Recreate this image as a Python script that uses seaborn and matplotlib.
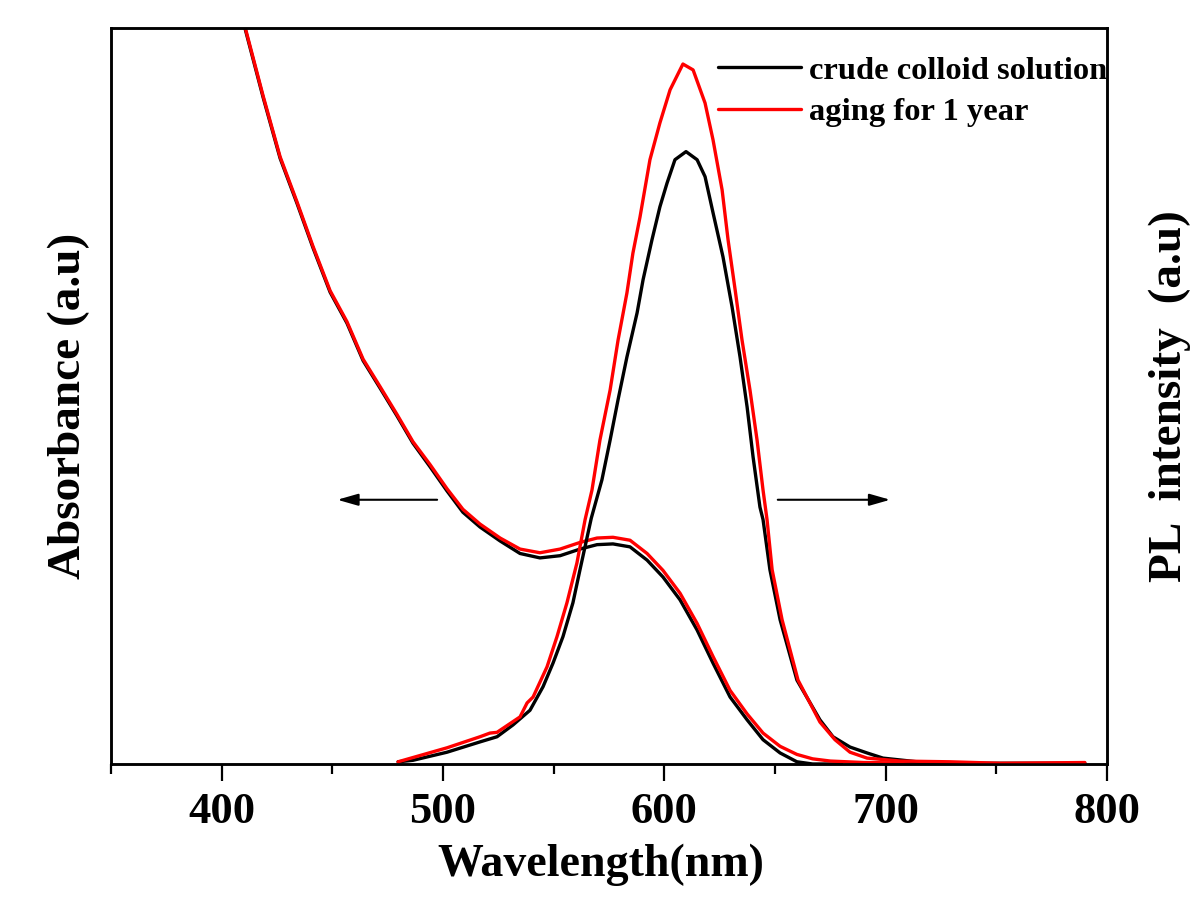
import numpy as np
import pandas as pd
import matplotlib
matplotlib.use("Agg")
import matplotlib.pyplot as plt
import seaborn as sns

# ---------------- data (arbitrary units) ----------------
abs_wl = [400, 410.5, 418.7, 426.4, 434.0, 441.3, 449.0, 456.6, 463.9, 471.5, 479.2,
          486.4, 494.1, 501.8, 509.0, 516.7, 525.8, 534.8, 543.8, 552.9, 561.9,
          569.6, 576.8, 584.5, 592.2, 599.4, 607.1, 614.8, 622.0, 629.7, 637.4,
          644.6, 652.3, 659.9, 667.0, 680.0]
abs_black = [1.13, 1.000, 0.906, 0.823, 0.762, 0.701, 0.641, 0.599, 0.548, 0.511, 0.473,
             0.436, 0.404, 0.371, 0.342, 0.322, 0.303, 0.286, 0.280, 0.283, 0.292,
             0.298, 0.299, 0.295, 0.277, 0.254, 0.223, 0.182, 0.137, 0.091, 0.060,
             0.033, 0.015, 0.003, 0.000, 0.000]
abs_red_wl = abs_wl[:-1] + [675.0, 690.0, 720.0]
abs_red = [1.13, 1.002, 0.908, 0.825, 0.764, 0.703, 0.643, 0.601, 0.550, 0.513, 0.475,
           0.438, 0.407, 0.374, 0.346, 0.326, 0.307, 0.292, 0.287, 0.292, 0.301,
           0.307, 0.308, 0.304, 0.286, 0.263, 0.232, 0.191, 0.146, 0.100, 0.068,
           0.042, 0.024, 0.013, 0.007, 0.004, 0.002, 0.001]

pl_black_wl = [479.7, 486.4, 501.8, 516.7, 524.4, 531.6, 539.3, 545.2, 549.7, 554.2,
               558.7, 561.9, 567.0, 571.8, 575.5, 579.1, 583.1, 587.7, 590.4, 594.4,
               598.0, 601.2, 604.8, 609.8, 614.8, 618.4, 622.0, 626.5, 630.6, 634.2,
               637.4, 640.1, 643.2, 644.6, 647.7, 652.3, 659.9, 670.3, 676.2, 683.9,
               691.6, 698.8, 714.2, 729.1, 760.0, 790.0]
pl_black = [0.003, 0.005, 0.016, 0.030, 0.037, 0.053, 0.073, 0.105, 0.137, 0.173,
            0.219, 0.264, 0.334, 0.386, 0.440, 0.495, 0.553, 0.613, 0.658, 0.712,
            0.757, 0.789, 0.821, 0.832, 0.821, 0.798, 0.749, 0.689, 0.621, 0.553,
            0.485, 0.417, 0.349, 0.332, 0.264, 0.196, 0.114, 0.060, 0.037, 0.023,
            0.015, 0.008, 0.003, 0.001, 0.001, 0.001]

pl_red_wl = [479.7, 501.8, 516.7, 521.2, 524.4, 534.8, 538.0, 540.7, 547.0, 551.5,
             556.0, 560.5, 564.2, 567.3, 570.9, 575.5, 579.1, 583.1, 585.8, 589.0,
             593.5, 598.0, 602.6, 608.4, 613.0, 618.4, 622.0, 626.1, 628.8, 632.0,
             635.1, 638.7, 641.9, 644.6, 646.4, 648.7, 653.2, 660.4, 670.3, 677.1,
             683.9, 691.6, 706.5, 729.1, 751.7, 790.0]
pl_red = [0.003, 0.022, 0.037, 0.042, 0.043, 0.064, 0.083, 0.091, 0.132, 0.173,
          0.219, 0.273, 0.332, 0.372, 0.440, 0.508, 0.576, 0.640, 0.694, 0.743,
          0.821, 0.871, 0.916, 0.951, 0.943, 0.898, 0.848, 0.780, 0.712, 0.644,
          0.576, 0.508, 0.440, 0.372, 0.332, 0.264, 0.196, 0.114, 0.057, 0.033,
          0.016, 0.008, 0.004, 0.003, 0.001, 0.002]

series_names = ["crude colloid solution", "aging for 1 year"]
series_colors = ["#000000", "#ff0000"]
x_ticks = [400, 500, 600, 700, 800]

# ---------------- style ----------------
sns.set_theme(style="white")
plt.rcParams["font.family"] = ["Liberation Serif", "DejaVu Serif"]
plt.rcParams["font.weight"] = "bold"
plt.rcParams["text.color"] = "black"
plt.rcParams["axes.labelcolor"] = "black"
plt.rcParams["xtick.color"] = "black"
plt.rcParams["ytick.color"] = "black"

fig = plt.figure(figsize=(12, 9.02), dpi=100)
ax = fig.add_axes([0.0925, 0.153, 0.830, 0.816])
ax2 = ax.twinx()

lw = 2.4
sns.lineplot(x=abs_wl, y=abs_black, ax=ax, color=series_colors[0], lw=lw,
             sort=False, estimator=None)
sns.lineplot(x=abs_red_wl, y=abs_red, ax=ax, color=series_colors[1], lw=lw,
             sort=False, estimator=None)
sns.lineplot(x=pl_black_wl, y=pl_black, ax=ax2, color=series_colors[0], lw=lw,
             sort=False, estimator=None, label=series_names[0])
sns.lineplot(x=pl_red_wl, y=pl_red, ax=ax2, color=series_colors[1], lw=lw,
             sort=False, estimator=None, label=series_names[1])

for a in (ax, ax2):
    a.set_xlim(350, 800)
    a.set_ylim(0, 1)
    a.set_yticks([])
    for s in a.spines.values():
        s.set_color("black")
        s.set_linewidth(1.8)

ax.set_xticks(x_ticks)
ax.set_xticks([350, 450, 550, 650, 750], minor=True)
ax.tick_params(axis="x", which="major", direction="out", length=12.5, width=1.6,
               color="black", labelcolor="black", labelsize=32, pad=8, bottom=True)
ax.tick_params(axis="x", which="minor", direction="out", length=7, width=1.6,
               color="black", bottom=True)
for lab in ax.get_xticklabels():
    lab.set_fontweight("bold")

ax.set_xlabel("Wavelength(nm)", fontsize=33, fontweight="bold", labelpad=8,
              color="black")
ax.xaxis.label.set_x(0.492)
ax.set_ylabel("Absorbance (a.u)", fontsize=34, fontweight="bold", labelpad=15,
              color="black")
ax.yaxis.label.set_y(0.487)
ax2.set_ylabel("PL  intensity  (a.u)", fontsize=34, fontweight="bold", labelpad=30,
               color="black")

# arrows
ax.annotate("", xy=(451, 0.359), xytext=(498.6, 0.359),
            arrowprops=dict(arrowstyle="-|>,head_length=0.7,head_width=0.2",
                            color="black", lw=1.5, mutation_scale=18))
ax.annotate("", xy=(703.3, 0.359), xytext=(650, 0.359),
            arrowprops=dict(arrowstyle="-|>,head_length=0.7,head_width=0.2",
                            color="black", lw=1.5, mutation_scale=18))

leg = ax2.legend(loc="upper right", bbox_to_anchor=(1.0, 0.962), frameon=False,
                 prop=dict(family="Liberation Serif", weight="bold", size=23.4),
                 handlelength=2.55, handletextpad=0.25, labelspacing=0.37,
                 borderaxespad=0.0, borderpad=0.0)
for t in leg.get_texts():
    t.set_color("black")
for h in leg.get_lines():
    h.set_linewidth(2.4)

fig.savefig("out.png", dpi=100, facecolor="white")
